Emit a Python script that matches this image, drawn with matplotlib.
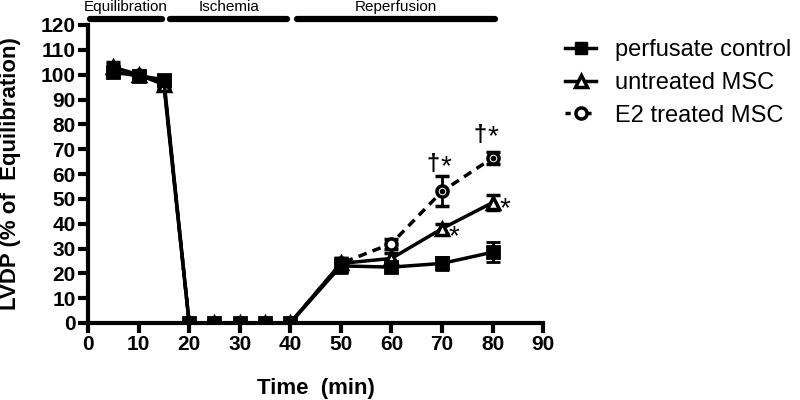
import matplotlib
matplotlib.use("Agg")
import matplotlib.pyplot as plt
from matplotlib.lines import Line2D

plt.rcParams['font.family'] = ['Liberation Sans', 'DejaVu Sans']

time = [5, 10, 15, 20, 25, 30, 35, 40, 50, 60, 70, 80]
control = [101, 99.5, 98, 0, 0, 0, 0, 0, 23, 22.5, 24, 28.5]
control_err = [2, 1.5, 2, 0.5, 0.5, 0.5, 0.5, 0.5, 3, 2, 2.5, 4]
untreated = [103, 100, 96, 0, 0, 0, 0, 0, 24, 26, 38, 48.5]
untreated_err = [2, 1.5, 2, 0.5, 0.5, 0.5, 0.5, 0.5, 2, 2, 2, 3]
e2 = [102, 100, 97, 0, 0, 0, 0, 0, 24, 32, 53, 66.5]
e2_err = [2, 1.5, 2, 0.5, 0.5, 0.5, 0.5, 0.5, 2, 2, 6, 2.5]

periods = ["Equilibration", "Ischemia", "Reperfusion"]
period_start = [0.3, 16.3, 41.3]
period_end = [14.7, 39.3, 80.5]

series_labels = ["perfusate control", "untreated MSC", "E2 treated MSC"]

fig = plt.figure(figsize=(8, 4), dpi=100)
ax = fig.add_axes([0.11, 0.1925, 0.569, 0.745])

lw = 2.5
ax.errorbar(time, e2, yerr=e2_err, color='black', lw=lw, ls=(0, (2.5, 1.8)), marker='o', ms=8,
            mfc='white', mec='black', mew=2.5, capsize=5, capthick=2, elinewidth=2, zorder=3)
ax.errorbar(time, untreated, yerr=untreated_err, color='black', lw=lw, marker='^', ms=9,
            mfc='white', mec='black', mew=2.5, capsize=5, capthick=2, elinewidth=2, zorder=4)
ax.errorbar(time, control, yerr=control_err, color='black', lw=lw, marker='s', ms=8,
            mfc='black', mec='black', mew=2, capsize=5, capthick=2, elinewidth=2, zorder=5)
ax.plot([80], [66.5], marker='o', ms=3, color='black', zorder=6)
ax.plot([70], [53], marker='o', ms=3, color='black', zorder=6)

# significance marks
ax.text(67.0, 59, "†", fontsize=17, fontweight='bold', ha='left', va='bottom')
ax.text(69.6, 57.5, "*", fontsize=20, ha='left', va='bottom')
ax.text(76.3, 71, "†", fontsize=17, fontweight='bold', ha='left', va='bottom')
ax.text(78.9, 69.5, "*", fontsize=20, ha='left', va='bottom')
ax.text(71.2, 29.5, "*", fontsize=20, ha='left', va='bottom')
ax.text(81.3, 40.5, "*", fontsize=20, ha='left', va='bottom')

# period bars
for name, s, e in zip(periods, period_start, period_end):
    ax.plot([s, e], [122.5, 122.5], color='black', lw=4.5, solid_capstyle='round', clip_on=False)
    ax.text((s + e) / 2, 124.5, name, ha='center', va='bottom', fontsize=11, clip_on=False)

ax.set_xlim(0, 90)
ax.set_ylim(0, 120)
ax.set_xticks(range(0, 91, 10))
ax.set_yticks(range(0, 121, 10))
for sp in ['top', 'right']:
    ax.spines[sp].set_visible(False)
for sp in ['left', 'bottom']:
    ax.spines[sp].set_linewidth(3)
ax.tick_params(axis='both', width=3, length=7, direction='out', labelsize=15, pad=2)
for lab in ax.get_xticklabels() + ax.get_yticklabels():
    lab.set_fontweight('bold')

ax.set_xlabel("Time  (min)", fontsize=16, fontweight='bold', labelpad=17)
ax.set_ylabel("LVDP (% of  Equilibration)", fontsize=16, fontweight='bold', labelpad=14)

handles = [
    Line2D([], [], color='black', lw=lw, marker='s', ms=8, mfc='black', mec='black'),
    Line2D([], [], color='black', lw=lw, marker='^', ms=9, mfc='white', mec='black', mew=2.5),
    Line2D([], [], color='black', lw=lw, ls=(0, (1.5, 1.5)), marker='o', ms=8, mfc='white', mec='black', mew=2.5),
]
fig.legend(handles, series_labels, loc='upper left', bbox_to_anchor=(0.68, 0.955),
           frameon=False, fontsize=17, handlelength=1.3, labelspacing=0.45, handletextpad=0.8)

fig.savefig("out.png", dpi=100)
